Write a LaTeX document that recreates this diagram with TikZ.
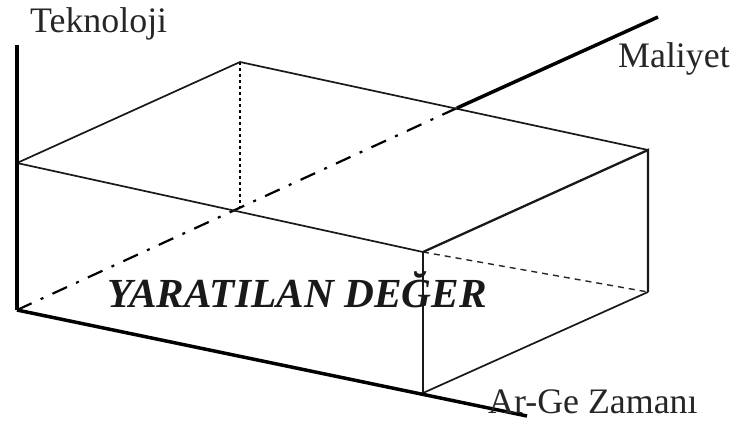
\documentclass[tikz,border=0pt]{standalone}
\usepackage{fontspec}
\setmainfont{Liberation Serif}
\begin{document}
\begin{tikzpicture}[x=1bp,y=-1bp,
  axis/.style={line width=3.5bp,black},
  edge/.style={line width=1.7bp,black!90},
  edgeb/.style={line width=2.3bp,black!90},
  hidden/.style={line width=1.4bp,black!85,dash pattern=on 6bp off 5bp},
  dotv/.style={line width=1.8bp,black,dash pattern=on 3bp off 3bp},
  dashdot/.style={line width=2.2bp,black,dash pattern=on 16bp off 10bp on 3bp off 10bp},
  lbl/.style={inner sep=0pt,anchor=base west,text=black!85,font=\fontsize{36}{40}\selectfont},
  big/.style={inner sep=0pt,anchor=base west,text=black!90,font=\fontsize{41.5}{44}\selectfont\bfseries\itshape}]
\useasboundingbox (0,0) rectangle (736,423);
% axes points
\coordinate (O) at (17,310);
\coordinate (Ttop) at (17,45);
\coordinate (Mend) at (658,17);
\coordinate (Mb) at (457,108);
\coordinate (Aend) at (527,416);
% box points
\coordinate (FTL) at (17,163);
\coordinate (BTL) at (240,62);
\coordinate (BTR) at (648,150);
\coordinate (FTR) at (423,252);
\coordinate (FBR) at (423,393);
\coordinate (BBR) at (648,292);
\coordinate (BBL) at (240,208);
% hidden lines
\draw[dashdot] (O) -- (Mb);
\draw[dotv] (BTL) -- (BBL);
\draw[hidden] (FTR) -- (BBR);
% box edges
\draw[edge] (FTL) -- (BTL) -- (BTR);
\draw[edge] (FTL) -- (FTR);
\draw[edgeb] (FTR) -- (BTR) -- (BBR);
\draw[edge] (FTR) -- (FBR) -- (BBR);
% axes
\draw[axis] (Ttop) -- (O);
\draw[axis] (O) -- (Aend);
\draw[axis] (Mb) -- (Mend);
% labels
\node[lbl] (tek) at (30,32) {Teknoloji};
\node[lbl] (mal) at (618,67) {Maliyet};
\node[lbl] (arge) at (488,413) {Ar-Ge Zamanı};
\node[big] (yd) at (107,307) {YARATILAN DEĞER};
\end{tikzpicture}
\end{document}
